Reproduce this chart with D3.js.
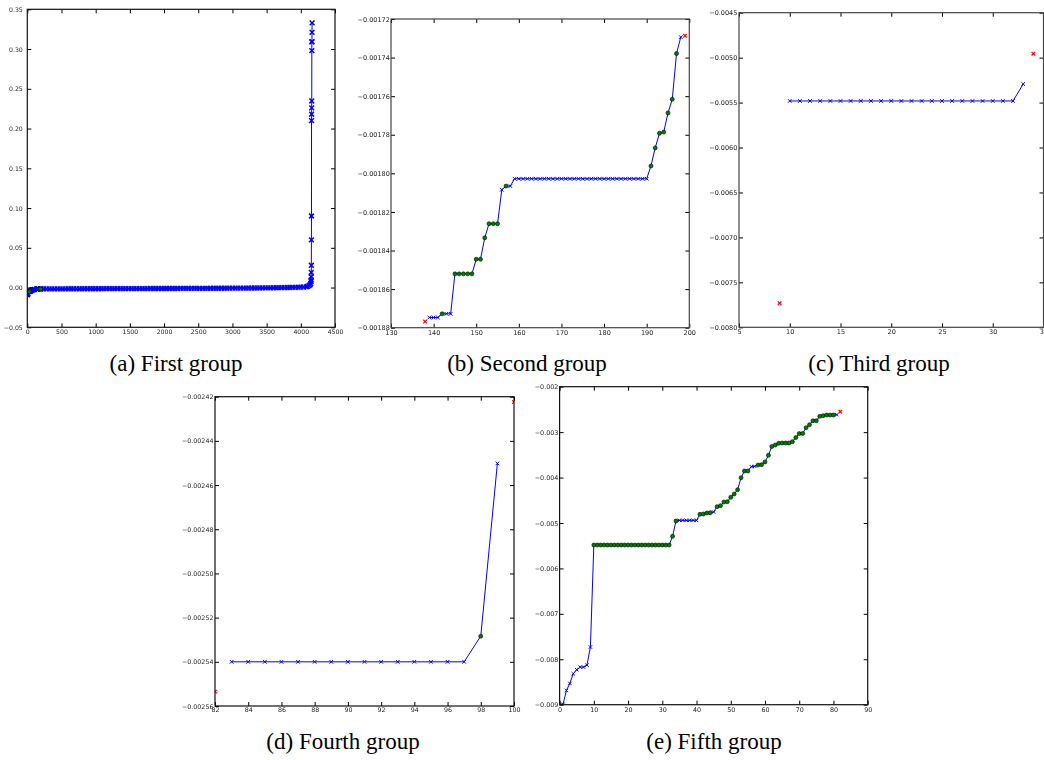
<!DOCTYPE html>
<html>
<head>
<meta charset="utf-8">
<script src="https://cdn.jsdelivr.net/npm/d3@7"></script>
<style>
  html, body { margin: 0; padding: 0; background: #fff; }
  svg { display: block; }
</style>
</head>
<body>
<svg id="fig" width="1044" height="760"></svg>
<script>
// ---------------- (a) First group: the full sorted series ----------------
const groupAHeadIndex = [0, 2, 5, 9, 10, 33, 34, 45, 55, 65, 75, 81, 97, 99, 139, 145, 155, 160, 172, 190, 195, 198];
const groupAHeadValue = [-0.0090, -0.00869, -0.00823, -0.00773, -0.00549, -0.00529, -0.00496, -0.00476, -0.00386,
  -0.00324, -0.00275, -0.00262, -0.00254, -0.00245, -0.00187, -0.00185, -0.00183, -0.00180, -0.00180, -0.00180,
  -0.00176, -0.00173];
// body of the series, sampled every 40 positions starting at 200
const groupABandStart = 200;
const groupABandStep = 40;
const groupABandValue = [
  -0.00172, -0.00170, -0.00168, -0.00166, -0.00165, -0.00163, -0.00162, -0.00160, -0.00159, -0.00158,
  -0.00156, -0.00155, -0.00154, -0.00153, -0.00152, -0.00151, -0.00150, -0.00149, -0.00148, -0.00147,
  -0.00146, -0.00145, -0.00144, -0.00143, -0.00142, -0.00141, -0.00140, -0.00139, -0.00138, -0.00137,
  -0.00136, -0.00135, -0.00134, -0.00133, -0.00132, -0.00131, -0.00130, -0.00129, -0.00128, -0.00127,
  -0.00126, -0.00125, -0.00124, -0.00122, -0.00121, -0.00120, -0.00118, -0.00117, -0.00116, -0.00114,
  -0.00113, -0.00112, -0.00110, -0.00109, -0.00107, -0.00106, -0.00104, -0.00103, -0.00101, -0.00099,
  -0.00098, -0.00096, -0.00094, -0.00092, -0.00090, -0.00088, -0.00086, -0.00084, -0.00082, -0.00080,
  -0.00078, -0.00075, -0.00073, -0.00070, -0.00068, -0.00065, -0.00062, -0.00059, -0.00056, -0.00053,
  -0.00050, -0.00046, -0.00042, -0.00038, -0.00034, -0.00029, -0.00024, -0.00018, -0.00012, -0.00005,
   0.00002,  0.00010,  0.00019,  0.00029,  0.00040,  0.00053,  0.00068,  0.00086
];
const groupATailIndex = [4100, 4120, 4135, 4145, 4150, 4151, 4152, 4153, 4154, 4155, 4156, 4157, 4158, 4159, 4160,
  4161, 4162, 4163, 4164, 4165];
const groupATailValue = [0.0015, 0.0025, 0.0035, 0.0050, 0.0075, 0.0095, 0.0133, 0.0190, 0.0280, 0.0600, 0.0900,
  0.2100, 0.2180, 0.2260, 0.2347, 0.2980, 0.3090, 0.3093, 0.3210, 0.3330];
const groupAGreen = [33, 172, 195];
const groupAXTicks = [0, 500, 1000, 1500, 2000, 2500, 3000, 3500, 4000, 4500];
const groupAYTicks = [-0.05, 0.00, 0.05, 0.10, 0.15, 0.20, 0.25, 0.30, 0.35];

// ---------------- (b) Second group ----------------
const groupBStart = 139;
const groupBValue = [
  -0.0018747, -0.0018747, -0.0018747,
  -0.0018728, -0.0018728, -0.0018728,
  -0.0018521, -0.0018521, -0.0018521, -0.0018521, -0.0018521,
  -0.0018445, -0.0018445,
  -0.0018334,
  -0.0018261, -0.0018261, -0.0018261,
  -0.0018085,
  -0.0018066, -0.0018066,
  -0.0018028, -0.0018028, -0.0018028, -0.0018028, -0.0018028, -0.0018028, -0.0018028, -0.0018028,
  -0.0018028, -0.0018028, -0.0018028, -0.0018028, -0.0018028, -0.0018028, -0.0018028, -0.0018028,
  -0.0018028, -0.0018028, -0.0018028, -0.0018028, -0.0018028, -0.0018028, -0.0018028, -0.0018028,
  -0.0018028, -0.0018028, -0.0018028, -0.0018028, -0.0018028, -0.0018028, -0.0018028, -0.0018028,
  -0.0017962, -0.0017868, -0.0017792, -0.0017786, -0.0017687, -0.0017616, -0.0017379,
  -0.0017294
];
const groupBGreen = [142, 145, 146, 147, 148, 149, 150, 151, 152, 153, 154, 155, 157,
  191, 192, 193, 194, 195, 196, 197];
const groupBRedIndex = [138, 199];
const groupBRedValue = [-0.0018768, -0.0017287];
const groupBXTicks = [130, 140, 150, 160, 170, 180, 190, 200];
const groupBYTicks = [-0.00188, -0.00186, -0.00184, -0.00182, -0.00180, -0.00178, -0.00176, -0.00174, -0.00172];

// ---------------- (c) Third group ----------------
const groupCStart = 10;
const groupCValue = [
  -0.005482, -0.005482, -0.005482, -0.005482, -0.005482, -0.005482, -0.005482, -0.005482,
  -0.005482, -0.005482, -0.005482, -0.005482, -0.005482, -0.005482, -0.005482, -0.005482,
  -0.005482, -0.005482, -0.005482, -0.005482, -0.005482, -0.005482, -0.005482,
  -0.005293
];
const groupCGreen = [];
const groupCRedIndex = [9, 34];
const groupCRedValue = [-0.007732, -0.004956];
const groupCXTicks = [5, 10, 15, 20, 25, 30, 35];
const groupCYTicks = [-0.0080, -0.0075, -0.0070, -0.0065, -0.0060, -0.0055, -0.0050, -0.0045];

// ---------------- (d) Fourth group ----------------
const groupDStart = 83;
const groupDValue = [
  -0.00254, -0.00254, -0.00254, -0.00254, -0.00254, -0.00254, -0.00254, -0.00254,
  -0.00254, -0.00254, -0.00254, -0.00254, -0.00254, -0.00254, -0.00254,
  -0.0025284, -0.0024502
];
const groupDGreen = [98];
const groupDRedIndex = [82, 100];
const groupDRedValue = [-0.0025535, -0.0024224];
const groupDXTicks = [82, 84, 86, 88, 90, 92, 94, 96, 98, 100];
const groupDYTicks = [-0.00256, -0.00254, -0.00252, -0.00250, -0.00248, -0.00246, -0.00244, -0.00242];

// ---------------- (e) Fifth group ----------------
const groupEStart = 0;
const groupEValue = [
  -0.009000, -0.008990, -0.008685, -0.008531, -0.008318, -0.008230, -0.008172, -0.008172, -0.008128, -0.007731,
  -0.005485, -0.005485, -0.005485, -0.005485, -0.005485, -0.005485, -0.005485, -0.005485, -0.005485, -0.005485,
  -0.005485, -0.005485, -0.005485, -0.005485, -0.005485, -0.005485, -0.005485, -0.005485, -0.005485, -0.005485,
  -0.005485, -0.005485, -0.005485,
  -0.005294, -0.004956,
  -0.004942, -0.004942, -0.004942, -0.004942, -0.004942, -0.004942,
  -0.004809, -0.004802, -0.004780, -0.004773, -0.004758, -0.004641, -0.004619, -0.004538, -0.004531, -0.004435,
  -0.004362, -0.004267, -0.004003, -0.003856, -0.003856, -0.003761, -0.003752, -0.003724, -0.003717, -0.003655,
  -0.003510, -0.003315, -0.003285, -0.003246, -0.003239, -0.003239, -0.003239, -0.003210, -0.003120, -0.003032,
  -0.003030, -0.002902, -0.002836, -0.002748, -0.002748, -0.002652, -0.002638, -0.002623, -0.002623, -0.002623,
  -0.002616
];
const groupEGreen = [10, 11, 12, 13, 14, 15, 16, 17, 18, 19, 20, 21, 22, 23, 24, 25, 26, 27, 28, 29, 30, 31, 32, 33, 34,
  41, 42, 43, 44, 46, 47, 48, 49, 50, 51, 52, 53, 54, 55,
  58, 59, 60, 61, 62, 63, 64, 65, 66, 67, 68, 69, 70, 71, 72, 73, 74, 75, 76, 77, 78, 79, 80];
const groupERedIndex = [82];
const groupERedValue = [-0.00255];
const groupEXTicks = [0, 10, 20, 30, 40, 50, 60, 70, 80, 90];
const groupEYTicks = [-0.009, -0.008, -0.007, -0.006, -0.005, -0.004, -0.003, -0.002];

// ---------------- assemble series ----------------
function fromStart(start, values) {
  return values.map((v, i) => [start + i, v]);
}
function zipPairs(idx, vals) {
  return idx.map((k, i) => [k, vals[i]]);
}
const seriesA = zipPairs(groupAHeadIndex, groupAHeadValue)
  .concat(groupABandValue.map((v, i) => [groupABandStart + i * groupABandStep, v]))
  .concat(zipPairs(groupATailIndex, groupATailValue));

const panels = [
  {
    key: 'a', caption: '(a) First group', capX: 176, capY: 371,
    left: 27.3, right: 335, top: 9.3, bottom: 327.3,
    xDomain: [0, 4500], yDomain: [-0.05, 0.35],
    xTicks: groupAXTicks, yTicks: groupAYTicks, yFmt: '.2f',
    points: seriesA, green: groupAGreen, red: [],
    font: 6.2, yPad: 4.5, xPad: 2.6, mark: 2.4, markWidth: 1.5, frame: '#111'
  },
  {
    key: 'b', caption: '(b) Second group', capX: 527, capY: 371,
    left: 391, right: 689.3, top: 19, bottom: 327.7,
    xDomain: [130, 200], yDomain: [-0.00188, -0.00172],
    xTicks: groupBXTicks, yTicks: groupBYTicks, yFmt: '.5f',
    points: fromStart(groupBStart, groupBValue), green: groupBGreen,
    red: zipPairs(groupBRedIndex, groupBRedValue),
    font: 6.5, yPad: 1.2, xPad: 2.4, mark: 1.8, markWidth: 1, frame: '#444'
  },
  {
    key: 'c', caption: '(c) Third group', capX: 879, capY: 371,
    left: 739, right: 1043.5, top: 12.7, bottom: 327.3,
    xDomain: [5, 35], yDomain: [-0.008, -0.0045],
    xTicks: groupCXTicks, yTicks: groupCYTicks, yFmt: '.4f',
    points: fromStart(groupCStart, groupCValue), green: groupCGreen,
    red: zipPairs(groupCRedIndex, groupCRedValue),
    font: 6.5, yPad: 1.6, xPad: 2.4, mark: 1.8, markWidth: 1, frame: '#444'
  },
  {
    key: 'd', caption: '(d) Fourth group', capX: 343, capY: 749,
    left: 215, right: 514, top: 396.7, bottom: 706,
    xDomain: [82, 100], yDomain: [-0.00256, -0.00242],
    xTicks: groupDXTicks, yTicks: groupDYTicks, yFmt: '.5f',
    points: fromStart(groupDStart, groupDValue), green: groupDGreen,
    red: zipPairs(groupDRedIndex, groupDRedValue),
    font: 6.3, yPad: 1.6, xPad: 1.5, mark: 1.8, markWidth: 1, frame: '#111'
  },
  {
    key: 'e', caption: '(e) Fifth group', capX: 714, capY: 749,
    left: 559.6, right: 867.7, top: 386.7, bottom: 704.7,
    xDomain: [0, 90], yDomain: [-0.009, -0.002],
    xTicks: groupEXTicks, yTicks: groupEYTicks, yFmt: '.3f',
    points: fromStart(groupEStart, groupEValue), green: groupEGreen,
    red: zipPairs(groupERedIndex, groupERedValue),
    font: 6.4, yPad: 1.2, xPad: 2.6, mark: 1.7, markWidth: 1, frame: '#111'
  }
];

const svg = d3.select('#fig');
const defs = svg.append('defs');
const LINE_BLUE = '#0000ff';
const TICK_LEN = 4;

// neutral-grey filter so the small tick labels render without colour fringes
const mono = defs.append('filter').attr('id', 'mono')
  .attr('x', '-10%').attr('y', '-10%').attr('width', '120%').attr('height', '120%');
mono.append('feColorMatrix').attr('type', 'saturate').attr('values', 0);

function crossPath(s) {
  return `M${-s},${-s}L${s},${s}M${-s},${s}L${s},${-s}`;
}

function drawPanel(p) {
  const x = d3.scaleLinear().domain(p.xDomain).range([p.left, p.right]);
  const y = d3.scaleLinear().domain(p.yDomain).range([p.bottom, p.top]);
  const g = svg.append('g').attr('class', 'panel-' + p.key);

  const clipId = 'clip-' + p.key;
  defs.append('clipPath').attr('id', clipId).append('rect')
    .attr('x', p.left).attr('y', p.top)
    .attr('width', p.right - p.left).attr('height', p.bottom - p.top);

  const plot = g.append('g').attr('clip-path', `url(#${clipId})`);

  // connecting line through the kept points
  plot.append('path')
    .datum(p.points)
    .attr('d', d3.line().x(d => x(d[0])).y(d => y(d[1])))
    .attr('fill', 'none')
    .attr('stroke', LINE_BLUE)
    .attr('stroke-width', 1)
    .attr('stroke-linejoin', 'round');

  const greenSet = new Set(p.green);

  // blue crosses on the plain points
  plot.append('g').selectAll('path')
    .data(p.points.filter(d => !greenSet.has(d[0])))
    .join('path')
    .attr('transform', d => `translate(${x(d[0])},${y(d[1])})`)
    .attr('d', crossPath(p.mark))
    .attr('fill', 'none')
    .attr('stroke', LINE_BLUE)
    .attr('stroke-width', p.markWidth);

  // green circles on the highlighted points
  plot.append('g').selectAll('circle')
    .data(p.points.filter(d => greenSet.has(d[0])))
    .join('circle')
    .attr('cx', d => x(d[0]))
    .attr('cy', d => y(d[1]))
    .attr('r', 2)
    .attr('fill', '#008000')
    .attr('stroke', '#000')
    .attr('stroke-width', 0.6);

  // red crosses on the excluded points
  plot.append('g').selectAll('path')
    .data(p.red)
    .join('path')
    .attr('transform', d => `translate(${x(d[0])},${y(d[1])})`)
    .attr('d', crossPath(p.mark))
    .attr('fill', 'none')
    .attr('stroke', '#ff0000')
    .attr('stroke-width', 1.2);

  // axes: inward ticks on all four sides, labels on left and bottom
  const fmtY = d3.format(p.yFmt);
  const fmtX = d3.format('d');

  const bottom = g.append('g')
    .attr('filter', 'url(#mono)')
    .attr('transform', `translate(0,${p.bottom})`)
    .call(d3.axisBottom(x).tickValues(p.xTicks).tickFormat(fmtX)
      .tickSizeInner(-TICK_LEN).tickSizeOuter(0).tickPadding(p.xPad));
  const left = g.append('g')
    .attr('filter', 'url(#mono)')
    .attr('transform', `translate(${p.left},0)`)
    .call(d3.axisLeft(y).tickValues(p.yTicks).tickFormat(fmtY)
      .tickSizeInner(-TICK_LEN).tickSizeOuter(0).tickPadding(p.yPad));
  const top = g.append('g')
    .attr('transform', `translate(0,${p.top})`)
    .call(d3.axisTop(x).tickValues(p.xTicks).tickFormat('')
      .tickSizeInner(-TICK_LEN).tickSizeOuter(0));
  const right = g.append('g')
    .attr('transform', `translate(${p.right},0)`)
    .call(d3.axisRight(y).tickValues(p.yTicks).tickFormat('')
      .tickSizeInner(-TICK_LEN).tickSizeOuter(0));

  [bottom, left, top, right].forEach(ax => {
    ax.select('.domain').remove();
    ax.selectAll('line').attr('stroke', '#000').attr('stroke-width', 1);
    ax.selectAll('text')
      .attr('fill', '#222')
      .style('font-family', '"DejaVu Sans", sans-serif')
      .style('font-size', p.font + 'px');
  });

  // frame
  g.append('rect')
    .attr('x', p.left).attr('y', p.top)
    .attr('width', p.right - p.left).attr('height', p.bottom - p.top)
    .attr('fill', 'none')
    .attr('stroke', p.frame)
    .attr('stroke-width', 1.2);

  // caption
  svg.append('text')
    .attr('x', p.capX).attr('y', p.capY)
    .attr('text-anchor', 'middle')
    .style('font-family', '"Liberation Serif", "Times New Roman", serif')
    .style('font-size', '23px')
    .attr('fill', '#000')
    .text(p.caption);
}

panels.forEach(drawPanel);
</script>
</body>
</html>
